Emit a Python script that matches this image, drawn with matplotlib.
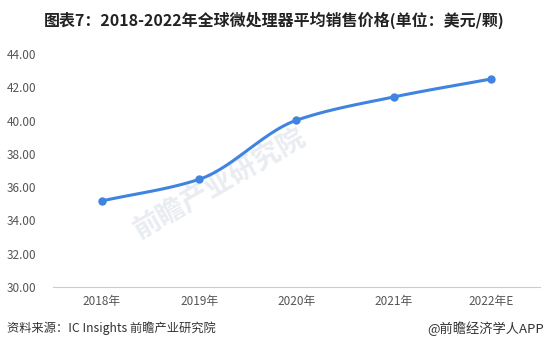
import numpy as np
import matplotlib
matplotlib.use("Agg")
import matplotlib.pyplot as plt

plt.rcParams['font.family'] = ['Noto Sans CJK SC', 'DejaVu Sans']

years = ['2018年', '2019年', '2020年', '2021年', '2022年E']
prices = [35.17, 36.47, 40.02, 41.42, 42.50]
yticks = [30, 32, 34, 36, 38, 40, 42, 44]


def smooth_curve(x, y, n=30):
    """monotone cubic hermite, for a smooth line through the points"""
    x = np.asarray(x, float)
    y = np.asarray(y, float)
    h = np.diff(x)
    d = np.diff(y) / h
    m = np.zeros_like(y)
    m[0], m[-1] = d[0], d[-1]
    for i in range(1, len(y) - 1):
        if d[i - 1] * d[i] > 0:
            m[i] = 2 / (1 / d[i - 1] + 1 / d[i])
    xs, ys = [], []
    for i in range(len(h)):
        t = np.linspace(0, 1, n)
        h00 = 2 * t**3 - 3 * t**2 + 1
        h10 = t**3 - 2 * t**2 + t
        h01 = -2 * t**3 + 3 * t**2
        h11 = t**3 - t**2
        xs.append(x[i] + t * h[i])
        ys.append(h00 * y[i] + h10 * h[i] * m[i] + h01 * y[i + 1] + h11 * h[i] * m[i + 1])
    return np.concatenate(xs), np.concatenate(ys)


def plot_chart():
    fig = plt.figure(figsize=(5.48, 3.53), dpi=100)
    ax = fig.add_axes([0.097, 0.187, 0.888, 0.66])

    xpos = np.arange(len(years))
    sx, sy = smooth_curve(xpos, prices)
    ax.plot(sx, sy, color='#3f84e0', linewidth=2.2, zorder=3)
    ax.plot(xpos, prices, 'o', color='#3f84e0', markersize=5, zorder=4)

    ax.set_xlim(-0.5, len(years) - 0.5)
    ax.set_ylim(30, 44)
    ax.set_yticks(yticks)
    ax.set_yticklabels([f'{v:.2f}' for v in yticks])
    ax.set_xticks(xpos)
    ax.set_xticklabels(years)
    ax.tick_params(axis='both', length=0, labelsize=8.5, colors='#555555', pad=6)
    ax.tick_params(axis='y', pad=12)
    for side in ['top', 'right', 'left']:
        ax.spines[side].set_visible(False)
    ax.spines['bottom'].set_color('#cccccc')

    # watermark, kept behind the line
    ax.text(0.4, 0.48, '前瞻产业研究院', transform=fig.transFigure, fontsize=20,
            color='#e9ecf1', rotation=30, ha='center', va='center',
            fontweight='bold', zorder=1)

    fig.text(0.5, 0.943, '图表7：2018-2022年全球微处理器平均销售价格(单位：美元/颗)',
             ha='center', va='center', fontsize=11.5, fontweight='bold', color='#222222')
    fig.text(0.013, 0.07, '资料来源：IC Insights 前瞻产业研究院', ha='left', va='center',
             fontsize=8.8, color='#333333')
    fig.text(0.992, 0.07, '@前瞻经济学人APP', ha='right', va='center',
             fontsize=9.5, color='#333333')

    fig.savefig('out.png', dpi=100)


def main():
    plot_chart()


if __name__ == '__main__':
    main()
